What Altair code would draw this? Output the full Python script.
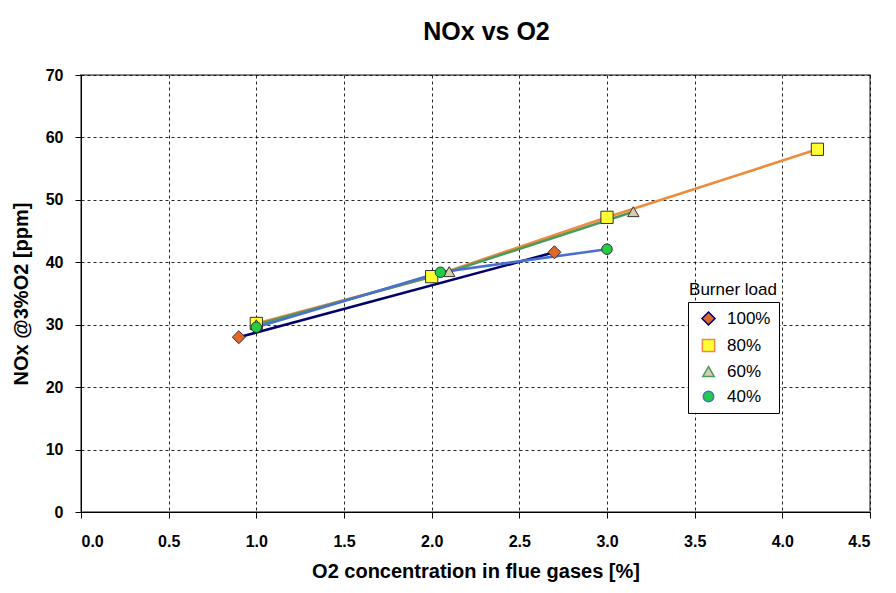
import altair as alt
import pandas as pd

loads = ["100%", "80%", "60%", "40%"]
o2_100 = [0.9, 2.7]
nox_100 = [28.0, 41.6]
o2_80 = [1.0, 2.0, 3.0, 4.2]
nox_80 = [30.2, 37.7, 47.2, 58.1]
o2_60 = [1.0, 2.1, 3.15]
nox_60 = [30.0, 38.5, 48.1]
o2_40 = [1.0, 2.05, 3.0]
nox_40 = [29.6, 38.4, 42.1]

line_colors = ["#00006E", "#EC8C3C", "#4E9A5E", "#4A6FD0"]
marker_fills = ["#E0672A", "#FFFF33", "#D8CCAE", "#22CC44"]
marker_shapes = ["diamond", "square", "triangle-up", "circle"]
marker_sizes = [170, 110, 110, 100]

rows = []
for name, xs, ys in [("100%", o2_100, nox_100), ("80%", o2_80, nox_80),
                     ("60%", o2_60, nox_60), ("40%", o2_40, nox_40)]:
    for x, y in zip(xs, ys):
        rows.append({"load": name, "o2": x, "nox": y})
df = pd.DataFrame(rows)

FONT = "Liberation Sans"

x_enc = alt.X("o2:Q", scale=alt.Scale(domain=[0, 4.5], nice=False),
              axis=alt.Axis(values=[0, 0.5, 1, 1.5, 2, 2.5, 3, 3.5, 4, 4.5], format=".1f",
                            title="O2 concentration in flue gases [%]"))
y_enc = alt.Y("nox:Q", scale=alt.Scale(domain=[0, 70], nice=False),
              axis=alt.Axis(values=[0, 10, 20, 30, 40, 50, 60, 70],
                            title="NOx @3%O2 [ppm]"))

legend = alt.Legend(title=None, orient="none", legendX=607, legendY=227)

lines = alt.Chart(df).mark_line(strokeWidth=2.6).encode(
    x=x_enc, y=y_enc,
    color=alt.Color("load:N", sort=loads, scale=alt.Scale(domain=loads, range=line_colors), legend=legend),
)
points = alt.Chart(df).mark_point(filled=True, stroke="#333333", strokeWidth=1, opacity=1).encode(
    x=x_enc, y=y_enc,
    fill=alt.Fill("load:N", sort=loads, scale=alt.Scale(domain=loads, range=marker_fills), legend=legend),
    shape=alt.Shape("load:N", sort=loads, scale=alt.Scale(domain=loads, range=marker_shapes), legend=legend),
    size=alt.Size("load:N", sort=loads, scale=alt.Scale(domain=loads, range=marker_sizes), legend=legend),
)
legend_title = alt.Chart(pd.DataFrame({"t": ["Burner load"]})).mark_text(
    font=FONT, fontSize=17, color="#000000", align="center", baseline="middle"
).encode(x=alt.value(652), y=alt.value(215), text="t:N")

chart = alt.layer(lines, points, legend_title).properties(
    width=789, height=437,
    background="#FFFFFF",
    autosize=alt.AutoSizeParams(type="none"),
    padding={"left": 73, "top": 67, "right": 18, "bottom": 73},
    title=alt.TitleParams("NOx vs O2", font=FONT, fontSize=25, fontWeight="bold", color="#000000",
                          anchor="middle", dx=11, offset=22),
).configure_view(
    stroke="#888888", strokeWidth=2
).configure_axis(
    labelFont=FONT, labelFontSize=16, labelFontWeight="bold", labelColor="#000000",
    titleFont=FONT, titleFontSize=20, titleFontWeight="bold", titleColor="#000000",
    domainColor="#000000", domainWidth=1, tickColor="#000000", tickSize=6,
    gridColor="#000000", gridDash=[3, 3], gridWidth=1, gridOpacity=0.85,
).configure_axisX(
    labelPadding=15, titlePadding=12
).configure_axisY(
    labelPadding=12, titlePadding=14
).configure_legend(
    strokeColor="#000000", fillColor="#FFFFFF", padding=8, labelFont=FONT, labelFontSize=17,
    labelColor="#000000", rowPadding=7, symbolStrokeWidth=1.5, labelOffset=10,
    symbolOffset=4,
)

chart.save("out.html", embed_options={"renderer": "svg", "actions": False})
